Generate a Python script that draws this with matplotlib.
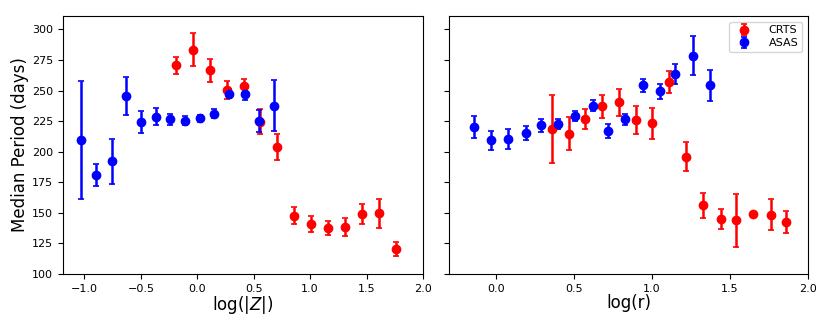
import matplotlib
matplotlib.use("Agg")
import matplotlib.pyplot as plt

# Left panel: vs log(|Z|)
asas_z_x = [-1.03, -0.90, -0.76, -0.63, -0.50, -0.37, -0.24, -0.11, 0.02, 0.15, 0.28, 0.42, 0.55, 0.68]
asas_z_y = [209.5, 181.2, 192.1, 245.4, 224.5, 228.5, 226.4, 225.3, 227.4, 231.2, 247.6, 247.6, 225.3, 237.8]
asas_z_e = [48.0, 9.0, 18.6, 15.6, 8.8, 7.0, 4.8, 3.6, 2.8, 3.5, 3.8, 5.7, 9.1, 20.6]

crts_z_x = [-0.19, -0.04, 0.11, 0.26, 0.41, 0.56, 0.71, 0.86, 1.01, 1.16, 1.31, 1.46, 1.61, 1.76]
crts_z_y = [270.7, 283.4, 266.6, 250.3, 253.8, 224.7, 204.1, 147.8, 140.8, 137.5, 138.6, 149.2, 149.5, 120.4]
crts_z_e = [7.0, 13.6, 9.5, 7.5, 5.5, 10.3, 10.7, 6.7, 6.4, 5.8, 7.5, 7.9, 12.0, 5.7]

# Right panel: vs log(r)
asas_r_x = [-0.14, -0.03, 0.08, 0.19, 0.29, 0.40, 0.51, 0.62, 0.72, 0.83, 0.94, 1.05, 1.15, 1.26, 1.37]
asas_r_y = [220.4, 209.5, 210.3, 215.2, 221.5, 222.3, 229.1, 237.8, 217.1, 226.4, 254.3, 249.5, 263.6, 278.5, 254.3]
asas_r_e = [9.2, 7.8, 8.3, 5.6, 5.2, 4.1, 4.2, 4.9, 5.8, 4.2, 5.3, 6.1, 8.4, 16.0, 12.6]

crts_r_x = [0.36, 0.47, 0.57, 0.68, 0.79, 0.90, 1.00, 1.11, 1.22, 1.33, 1.44, 1.54, 1.65, 1.76, 1.86]
crts_r_y = [218.5, 214.9, 226.6, 237.0, 240.5, 225.8, 223.1, 256.8, 195.9, 156.3, 144.8, 143.8, 149.2, 148.6, 142.7]
crts_r_e = [28.0, 13.6, 8.0, 9.7, 10.9, 11.2, 12.5, 9.0, 12.0, 10.3, 8.4, 22.0, 0.8, 12.6, 8.8]

yticks = [100, 125, 150, 175, 200, 225, 250, 275, 300]
xticks = [-1.0, -0.5, 0.0, 0.5, 1.0, 1.5, 2.0]

fig = plt.figure(figsize=(8.3, 3.32), dpi=100)
ax1 = fig.add_axes([0.0759, 0.1747, 0.4337, 0.7771])
ax2 = fig.add_axes([0.541, 0.1747, 0.4325, 0.7771], sharey=ax1)

kw = dict(fmt='o', ms=6, capsize=2, elinewidth=1.8, capthick=1.2)
ax1.errorbar(crts_z_x, crts_z_y, yerr=crts_z_e, color='red', label='CRTS', **kw)
ax1.errorbar(asas_z_x, asas_z_y, yerr=asas_z_e, color='blue', label='ASAS', **kw)
ax2.errorbar(crts_r_x, crts_r_y, yerr=crts_r_e, color='red', label='CRTS', **kw)
ax2.errorbar(asas_r_x, asas_r_y, yerr=asas_r_e, color='blue', label='ASAS', **kw)

ax1.set_ylim(100, 311)
ax1.set_yticks(yticks)
ax1.set_xlim(-1.19, 2.0)
ax1.set_xticks(xticks)
ax2.set_xlim(-0.30, 2.0)
ax2.set_xticks([0.0, 0.5, 1.0, 1.5, 2.0])
ax2.tick_params(labelleft=False)

for ax in (ax1, ax2):
    ax.tick_params(labelsize=8)

ax1.set_ylabel('Median Period (days)', fontsize=12, labelpad=2)
ax1.set_xlabel(r'log(|$Z$|)', fontsize=12, labelpad=0)
ax2.set_xlabel('log(r)', fontsize=12, labelpad=0)
ax2.legend(loc='upper right', fontsize=8, labelspacing=0.25,
           handletextpad=1.2, borderpad=0.35)

fig.savefig('out.png', dpi=100)
